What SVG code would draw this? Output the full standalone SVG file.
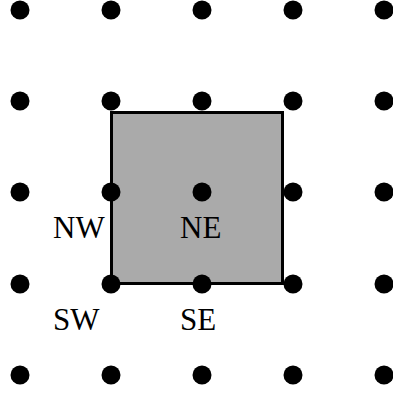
<svg xmlns="http://www.w3.org/2000/svg" width="393" height="395" viewBox="0 0 393 395">
<style>
.dot{fill:#000}
.lbl{font-family:"Liberation Serif","DejaVu Serif",serif;font-size:31px;fill:#000}
</style>
<rect width="393" height="395" fill="#fff"/>
<g id="square"><rect x="111.5" y="112.5" width="171" height="171" fill="#aaaaaa" stroke="#000" stroke-width="3"/></g>
<g id="dots">
<circle class="dot" cx="20" cy="10" r="9.5"/><circle class="dot" cx="111" cy="10" r="9.5"/><circle class="dot" cx="202" cy="10" r="9.5"/><circle class="dot" cx="293" cy="10" r="9.5"/><circle class="dot" cx="384" cy="10" r="9.5"/>
<circle class="dot" cx="20" cy="101" r="9.5"/><circle class="dot" cx="111" cy="101" r="9.5"/><circle class="dot" cx="202" cy="101" r="9.5"/><circle class="dot" cx="293" cy="101" r="9.5"/><circle class="dot" cx="384" cy="101" r="9.5"/>
<circle class="dot" cx="20" cy="192" r="9.5"/><circle class="dot" cx="111" cy="192" r="9.5"/><circle class="dot" cx="202" cy="192" r="9.5"/><circle class="dot" cx="293" cy="192" r="9.5"/><circle class="dot" cx="384" cy="192" r="9.5"/>
<circle class="dot" cx="20" cy="284" r="9.5"/><circle class="dot" cx="111" cy="284" r="9.5"/><circle class="dot" cx="202" cy="284" r="9.5"/><circle class="dot" cx="293" cy="284" r="9.5"/><circle class="dot" cx="384" cy="284" r="9.5"/>
<circle class="dot" cx="20" cy="375" r="9.5"/><circle class="dot" cx="111" cy="375" r="9.5"/><circle class="dot" cx="202" cy="375" r="9.5"/><circle class="dot" cx="293" cy="375" r="9.5"/><circle class="dot" cx="384" cy="375" r="9.5"/>
</g>
<g id="labels">
<text class="lbl" x="53" y="238">NW</text>
<text class="lbl" x="180" y="238">NE</text>
<text class="lbl" x="53" y="330">SW</text>
<text class="lbl" x="180" y="330">SE</text>
</g>
</svg>
